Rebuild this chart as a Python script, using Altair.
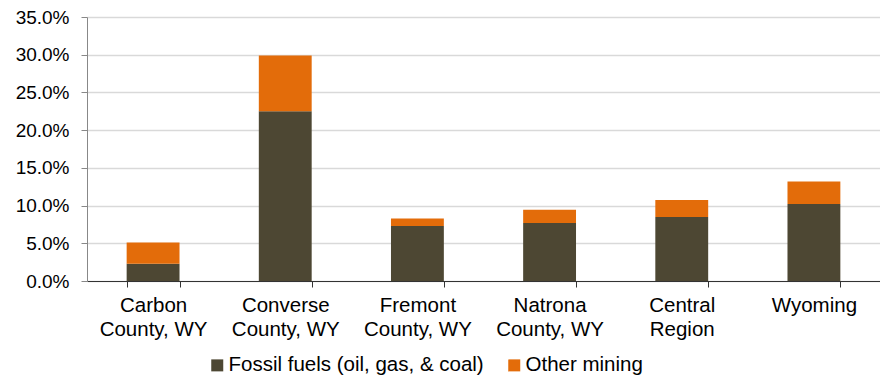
import altair as alt
import pandas as pd

categories = ["Carbon\nCounty, WY", "Converse\nCounty, WY", "Fremont\nCounty, WY",
              "Natrona\nCounty, WY", "Central\nRegion", "Wyoming"]
series = ["Fossil fuels (oil, gas, & coal)", "Other mining"]
fossil = [2.3, 22.5, 7.3, 7.7, 8.5, 10.2]
other = [2.8, 7.4, 1.0, 1.75, 2.25, 3.0]
colors = ["#4D4733", "#E36C0A"]

rows = []
for i, c in enumerate(categories):
    rows.append({"cat": c, "series": series[0], "order": 0, "value": fossil[i] / 100})
    rows.append({"cat": c, "series": series[1], "order": 1, "value": other[i] / 100})
df = pd.DataFrame(rows)

font = "Liberation Sans"

chart = alt.Chart(df).mark_bar().encode(
    x=alt.X("cat:N", sort=categories, title=None,
            scale=alt.Scale(paddingInner=0.6, paddingOuter=0.3),
            axis=alt.Axis(labelExpr="split(datum.label, '\\n')", labelAngle=0,
                          tickBand="extent", tickSize=6, labelPadding=8,
                          labelFontSize=20.5, labelLineHeight=24, labelFont=font,
                          labelColor="#000000", domainColor="#333333",
                          tickColor="#333333", labelBaseline="top")),
    y=alt.Y("value:Q", title=None,
            scale=alt.Scale(domain=[0, 0.35]),
            axis=alt.Axis(format=".1%", values=[0, 0.05, 0.1, 0.15, 0.2, 0.25, 0.3, 0.35],
                          tickSize=6, labelPadding=12, labelFontSize=19, labelFont=font,
                          labelColor="#000000", domainColor="#888888", tickColor="#888888",
                          gridColor="#d9d9d9", gridWidth=1.5)),
    color=alt.Color("series:N", sort=series,
                    scale=alt.Scale(domain=series, range=colors),
                    legend=alt.Legend(title=None, orient="none", legendX=120, legendY=338,
                                      direction="horizontal", symbolType="square",
                                      symbolSize=144, symbolStrokeWidth=0,
                                      labelFontSize=20.5, labelFont=font, labelColor="#000000",
                                      labelOffset=1, columnPadding=20, labelLimit=0)),
    order=alt.Order("order:Q", sort="ascending"),
).properties(
    width=793, height=264,
    autosize=alt.AutoSizeParams(type="none"),
    padding={"left": 79, "top": 9, "right": 0, "bottom": 94},
).configure_view(stroke=None)

chart.save("out.html", embed_options={"renderer": "svg", "actions": False})
